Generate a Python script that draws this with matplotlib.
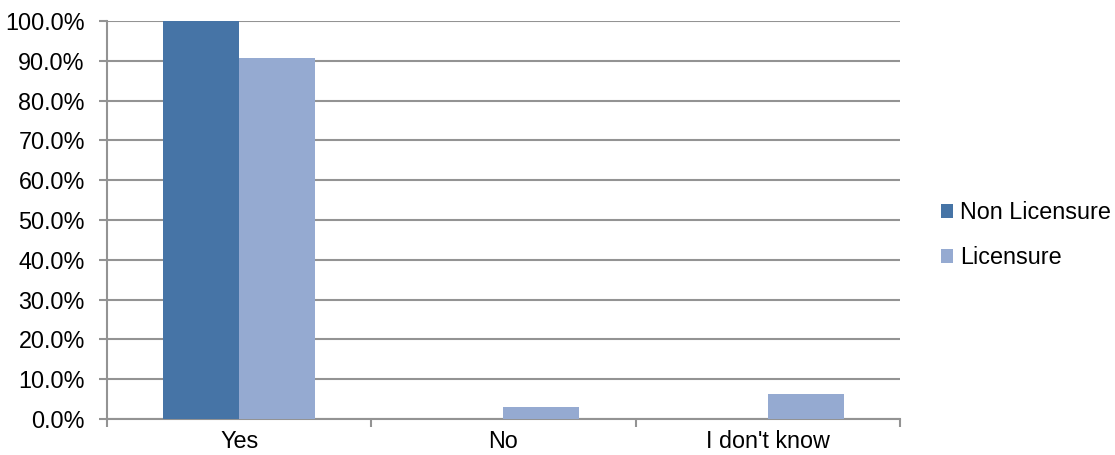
import numpy as np
import matplotlib.pyplot as plt
from matplotlib.ticker import PercentFormatter

plt.rcParams['font.family'] = ['Liberation Sans', 'DejaVu Sans']

CATEGORIES = ['Yes', 'No', "I don't know"]
SERIES = ['Non Licensure', 'Licensure']
NON_LICENSURE = [100.0, 0.0, 0.0]
LICENSURE = [90.6, 3.1, 6.3]
COLORS = ['#4674A6', '#95AAD1']
GRID = '#939393'
FS = 16.8

fig = plt.figure(figsize=(11.15, 4.55), dpi=100)
ax = fig.add_axes([0.096, 0.079, 0.711, 0.875])

x = np.arange(len(CATEGORIES))
w = 0.287
ax.bar(x - w / 2, NON_LICENSURE, w, color=COLORS[0], label=SERIES[0], zorder=3)
ax.bar(x + w / 2, LICENSURE, w, color=COLORS[1], label=SERIES[1], zorder=3)

ax.set_xlim(-0.5, len(CATEGORIES) - 0.5)
ax.set_ylim(0, 100)
ax.set_yticks(np.arange(0, 101, 10))
ax.yaxis.set_major_formatter(PercentFormatter(decimals=1))
ax.yaxis.grid(True, color=GRID, linewidth=1.5, zorder=0)

ax.set_xticks(x)
ax.set_xticklabels(CATEGORIES)
ax.set_xticks(np.arange(-0.5, len(CATEGORIES)), minor=True)
ax.tick_params(axis='x', which='major', length=0, pad=8)
ax.tick_params(axis='x', which='minor', length=6, color=GRID, width=1.5)
ax.tick_params(axis='y', length=6, color=GRID, width=1.5, pad=10)
ax.tick_params(labelsize=FS, labelcolor='black')

for s in ['top', 'right']:
    ax.spines[s].set_visible(False)
for s in ['left', 'bottom']:
    ax.spines[s].set_color(GRID)
    ax.spines[s].set_linewidth(1.5)

fig.legend(loc='center left', bbox_to_anchor=(0.844, 0.483), frameon=False,
           fontsize=FS, handlelength=0.5, handleheight=0.5, handletextpad=0.3,
           labelspacing=0.95, borderaxespad=0, borderpad=0)

fig.savefig('out.png', dpi=100)
